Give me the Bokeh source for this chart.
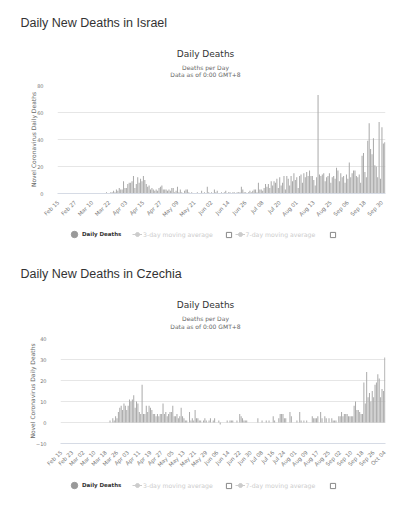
import math
import pandas as pd
from bokeh.plotting import figure
from bokeh.models import Range1d, FixedTicker, Label, Legend, LegendItem, ColumnDataSource
from bokeh.layouts import column
from bokeh.embed import file_html
from bokeh.resources import INLINE

# ---------------- data ----------------
START_DATE = "2020-02-15"

israel_feb = [0] * 15
israel_mar = [0] * 19 + [1, 0, 0, 1, 1, 2, 1, 3, 2, 4, 3, 3]
israel_apr = [9, 4, 4, 7, 8, 8, 9, 13, 4, 7, 12, 8, 11, 9, 13, 10, 7, 5, 6, 3,
              4, 3, 2, 3, 2, 4, 5, 6, 3, 3]
israel_may = [3, 2, 3, 2, 4, 4, 1, 2, 5, 1, 3, 1, 0, 2, 3, 3, 1, 0, 1, 0,
              0, 0, 1, 0, 0, 2, 0, 1, 0, 5, 1]
israel_jun = [0, 1, 0, 3, 1, 2, 0, 0, 1, 0, 1, 2, 0, 1, 1, 0, 1, 1, 0, 1,
              1, 1, 5, 3, 1, 1, 0, 1, 2, 1]
israel_jul = [2, 3, 3, 1, 8, 3, 3, 2, 4, 7, 5, 7, 4, 9, 6, 9, 8, 11, 4, 12,
              6, 8, 13, 3, 13, 11, 6, 13, 9, 15, 10]
israel_aug = [12, 4, 13, 14, 8, 15, 12, 16, 13, 17, 13, 13, 10, 6, 12, 73, 14, 13, 14, 15,
              9, 12, 13, 15, 8, 12, 13, 11, 19, 17, 9]
israel_sep = [15, 12, 13, 8, 14, 11, 23, 12, 15, 17, 17, 13, 12, 14, 8, 28, 30, 16, 12, 39,
              52, 33, 29, 41, 21, 20, 12, 53, 11, 49]
israel_oct = [37, 38]
israel_deaths = (israel_feb + israel_mar + israel_apr + israel_may + israel_jun
                 + israel_jul + israel_aug + israel_sep + israel_oct)

czechia_feb = [0] * 15
czechia_mar = [0] * 20 + [1, 0, 2, 1, 3, 2, 5, 7, 8, 6, 9]
czechia_apr = [8, 6, 8, 11, 10, 11, 13, 7, 10, 9, 5, 4, 18, 4, 4, 8, 5, 8, 7, 6,
               4, 4, 3, 4, 3, 4, 4, 9, 4, 5]
czechia_may = [3, 4, 5, 5, 8, 3, 3, 4, 2, 3, 7, 3, 2, 1, 1, 0, 5, 1, 2, 1,
               6, 2, 2, 1, 1, 0, 1, 2, 1, 0, 1]
czechia_jun = [2, 0, 1, 2, 0, 0, 1, -1, 0, 0, 0, 0, 1, 0, 1, 1, 1, 0, 0, 1,
               0, 4, 3, 2, 1, 1, 1, 0, 0, 0]
czechia_jul = [0, 0, 0, 0, 2, 0, 0, 1, 0, 0, 1, 0, 1, 0, 0, 3, 1, 0, 0, 2,
               4, 4, 4, 2, 2, 0, 0, 5, 3, 0, 0]
czechia_aug = [0, 1, 0, 5, 1, 0, 1, 0, 1, 0, 0, 0, 3, 2, 2, 2, 3, 0, 5, 2,
               0, 3, 2, 0, 2, 0, 2, 1, 1, 1, 0]
czechia_sep = [3, 3, 5, 3, 4, 4, 4, 3, 3, 3, 3, 8, 10, 6, 6, 5, 4, 4, 19, 9,
               24, 12, 14, 10, 15, 12, 18, 19, 23, 21]
czechia_oct = [12, 16, 15, 31]
czechia_deaths = (czechia_feb + czechia_mar + czechia_apr + czechia_may + czechia_jun
                  + czechia_jul + czechia_aug + czechia_sep + czechia_oct)

israel_label_step = 12
czechia_label_step = 8
israel_y_ticks = [0, 20, 40, 60, 80]
czechia_y_ticks = [-10, 0, 10, 20, 30, 40]

headings = ["Daily New Deaths in Israel", "Daily New Deaths in Czechia"]
chart_title = "Daily Deaths"
subtitle_lines = ["Deaths per Day", "Data as of 0:00 GMT+8"]
y_axis_title = "Novel Coronavirus Daily Deaths"
legend_labels = ["Daily Deaths", "3-day moving average", "7-day moving average"]

CHART_FONT = "DejaVu Sans"
HEAD_FONT = "Liberation Sans"
W = 400
NAN = float("nan")


def no_align(fig):
    try:
        fig.frame_align = False
    except Exception:
        pass
    return fig


def blank(height):
    """A figure without axes whose frame is the whole canvas (pixel-like ranges)."""
    b = figure(width=W, height=height, x_range=Range1d(0, W), y_range=Range1d(height, 0),
               x_axis_type=None, y_axis_type=None,
               output_backend="svg", toolbar_location=None,
               min_border=0, min_border_left=0, min_border_right=0,
               min_border_top=0, min_border_bottom=0,
               outline_line_color=None, background_fill_color="white",
               border_fill_color="white")
    b.grid.visible = False
    return no_align(b)


def make_header(heading, height, head_base, title_base, sub_base):
    h = blank(height)
    h.add_layout(Label(x=20, y=head_base, text=heading, text_font=HEAD_FONT,
                       text_font_size="12.5px", text_color="#333333",
                       text_align="left", text_baseline="alphabetic"))
    h.add_layout(Label(x=205, y=title_base, text=chart_title, text_font=CHART_FONT,
                       text_font_size="9px", text_color="#333333",
                       text_align="center", text_baseline="alphabetic"))
    for k, line in enumerate(subtitle_lines):
        h.add_layout(Label(x=205, y=sub_base + 7.5 * k, text=line, text_font=CHART_FONT,
                           text_font_size="6px", text_color="#666666",
                           text_align="center", text_baseline="alphabetic"))
    h.scatter(x=[NAN], y=[NAN], alpha=0)
    return h


def make_legend(height, cy):
    g = blank(height)
    # legend proxies (one NaN point each, never drawn in the canvas)
    r_main = g.scatter(x=[NAN], y=[NAN], marker="circle", size=7,
                       fill_color="#999999", line_color="#999999")
    r_l = g.line(x=[NAN, NAN], y=[NAN, NAN], line_color="#cccccc", line_width=1)
    r_m = g.scatter(x=[NAN], y=[NAN], marker="circle", size=4,
                    fill_color="#cccccc", line_color="#cccccc")
    r_box = g.scatter(x=[NAN], y=[NAN], marker="square", size=5,
                      fill_color="white", line_color="#888888")

    def leg(items, x0, gs, standoff, color, style, size):
        lg = Legend(items=items, location=(x0, height - (cy + gs / 2.0)),
                    orientation="horizontal", padding=0, margin=0, spacing=0,
                    glyph_width=gs, glyph_height=gs, label_height=gs,
                    label_standoff=standoff, label_text_font=CHART_FONT,
                    label_text_font_size=size, label_text_color=color,
                    label_text_font_style=style,
                    background_fill_alpha=0, border_line_alpha=0)
        g.add_layout(lg)

    leg([LegendItem(label=legend_labels[0], renderers=[r_main])], 66, 16, 0,
        "#333333", "bold", "5.5px")
    leg([LegendItem(label=legend_labels[1], renderers=[r_l, r_m])], 132, 10, 1,
        "#cccccc", "normal", "6.2px")
    leg([LegendItem(label=" ", renderers=[r_box])], 221.5, 13, 0,
        "#cccccc", "normal", "6px")
    leg([LegendItem(label=legend_labels[2], renderers=[r_l, r_m])], 234.5, 10, 1,
        "#cccccc", "normal", "6.2px")
    leg([LegendItem(label=" ", renderers=[r_box])], 325.5, 13, 0,
        "#cccccc", "normal", "6px")
    return g


def make_chart(values, step, yticks, height, fl, ft, fw, fh):
    n = len(values)
    dates = pd.date_range(START_DATE, periods=n, freq="D")
    labels = {i: dates[i].strftime("%b %d") for i in range(0, n, step)}
    p = figure(width=W, height=height,
               x_range=Range1d(-0.5, n - 0.5),
               y_range=Range1d(min(yticks), max(yticks)),
               output_backend="svg", toolbar_location=None,
               min_border_left=fl, min_border_top=ft,
               min_border_right=W - fl - fw,
               min_border_bottom=height - ft - fh,
               outline_line_color=None,
               background_fill_color="white", border_fill_color="white")

    src = ColumnDataSource(dict(x=list(range(n)), y=values))
    p.vbar(x="x", top="y", bottom=0, width=0.72, source=src,
           fill_color="#aaaaaa", line_color=None)

    p.xgrid.visible = False
    p.ygrid.ticker = FixedTicker(ticks=yticks)
    p.ygrid.grid_line_color = "#e6e6e6"
    p.ygrid.grid_line_width = 1

    ya = p.yaxis[0]
    ya.ticker = FixedTicker(ticks=yticks)
    ya.axis_line_color = None
    ya.major_tick_line_color = None
    ya.minor_tick_line_color = None
    ya.major_label_text_font = CHART_FONT
    ya.major_label_text_font_size = "5px"
    ya.major_label_text_color = "#777777"
    ya.major_label_standoff = 8
    ya.axis_label = y_axis_title
    ya.axis_label_text_font = CHART_FONT
    ya.axis_label_text_font_size = "6px"
    ya.axis_label_text_font_style = "normal"
    ya.axis_label_text_color = "#666666"
    ya.axis_label_standoff = -3

    xa = p.xaxis[0]
    xa.ticker = FixedTicker(ticks=list(labels.keys()))
    xa.major_label_overrides = labels
    xa.major_label_orientation = math.pi / 4
    xa.major_label_text_font = CHART_FONT
    xa.major_label_text_font_size = "5.5px"
    xa.major_label_text_color = "#777777"
    xa.major_label_standoff = 2
    xa.major_tick_line_color = None
    xa.minor_tick_line_color = None
    xa.axis_line_color = "#d6dbe5"
    return no_align(p)


h1 = make_header(headings[0], 80, 22.7, 53.5, 66.5)
c1 = make_chart(israel_deaths, israel_label_step, israel_y_ticks, 142, 57, 5, 328, 111)
l1 = make_legend(28, 12.3)
h2 = make_header(headings[1], 80, 23.3, 54, 68)
c2 = make_chart(czechia_deaths, czechia_label_step, czechia_y_ticks, 142, 60, 8, 325, 110)
l2 = make_legend(30, 13)

layout = column(h1, c1, l1, h2, c2, l2, spacing=0)
open("out.html", "w").write(file_html(layout, INLINE))
